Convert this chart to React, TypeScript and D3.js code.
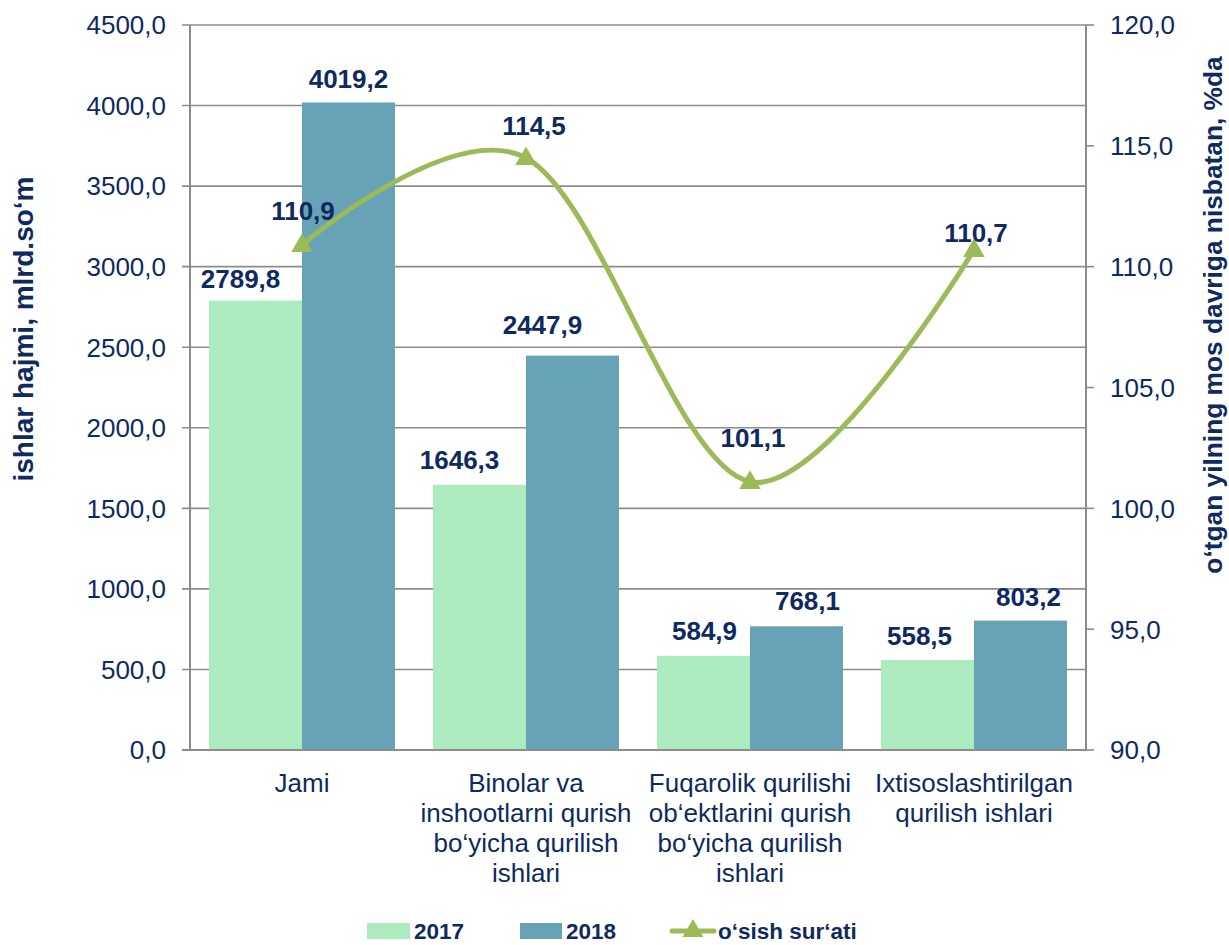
import React from "react";
import * as d3 from "d3";

const categories = ["Jami", "Binolar", "Fuqarolik", "Ixtisoslashtirilgan"];
const categoryLines = [
  ["Jami"],
  ["Binolar va", "inshootlarni qurish", "bo‘yicha qurilish", "ishlari"],
  ["Fuqarolik qurilishi", "ob‘ektlarini qurish", "bo‘yicha qurilish", "ishlari"],
  ["Ixtisoslashtirilgan", "qurilish ishlari"],
];
const series = ["2017", "2018"];
const values2017 = [2789.8, 1646.3, 584.9, 558.5];
const values2018 = [4019.2, 2447.9, 768.1, 803.2];
const growth = [110.9, 114.5, 101.1, 110.7];
const leftTicks = [0, 500, 1000, 1500, 2000, 2500, 3000, 3500, 4000, 4500];
const rightTicks = [90, 95, 100, 105, 110, 115, 120];
const leftTitle = "ishlar hajmi, mlrd.so‘m";
const rightTitle = "o‘tgan yilning mos davriga nisbatan, %da";
const lineName = "o‘sish sur‘ati";

// label nudges (style only): [dx, dy above top]
const nudge2017 = [[-15, 13], [-20, 16], [1, 16], [-8, 15]];
const nudge2018 = [[0, 14], [-30, 22], [11, 16], [8, 15]];
const nudgeLine = [[1, 25], [8, 23], [3, 35], [2, 8]];

const W = 1229, H = 945;
const L = 190, R = 1086, T = 25, B = 750;
const NAVY = "#0f2a5f";
const GRID = "#8c8c8c";
const C17 = "#aeeabf";
const C18 = "#67a2b6";
const CL = "#9bbb59";
const FONT = "'Liberation Sans', Arial, sans-serif";
const FS = 26;

const fmt = (v: number) => v.toFixed(1).replace(".", ",");

export default function App() {
  const x = d3.scaleBand<string>().domain(categories).range([L, R]).padding(0);
  const bw = x.bandwidth();
  const xs = d3.scaleBand<string>().domain(series).range([bw * 0.085, bw * 0.915]).padding(0);
  const y = d3.scaleLinear().domain([0, 4500]).range([B, T]);
  const y2 = d3.scaleLinear().domain([90, 120]).range([B, T]);
  const cx = (c: string) => (x(c) as number) + bw / 2;

  const linePts: [number, number][] = categories.map((c, i) => [cx(c), y2(growth[i])]);
  const linePath = d3.line().curve(d3.curveCardinal.tension(0))(linePts) as string;
  const tri = d3.symbol(d3.symbolTriangle, 200)() as string;
  const triSmall = d3.symbol(d3.symbolTriangle, 190)() as string;

  const bars = [
    { name: series[0], vals: values2017, color: C17, nudge: nudge2017 },
    { name: series[1], vals: values2018, color: C18, nudge: nudge2018 },
  ];

  return (
    <svg width={W} height={H} style={{ position: "absolute", left: 0, top: 0, background: "#fff" }} fontFamily={FONT}>
      <rect x={0} y={0} width={W} height={H} fill="#fff" />
      {/* gridlines */}
      {leftTicks.map((t) => (
        <line key={"g" + t} x1={182} x2={R} y1={y(t)} y2={y(t)} stroke={GRID} strokeWidth={1.6} />
      ))}
      {/* bars */}
      {bars.map((s) =>
        categories.map((c, i) => (
          <rect
            key={s.name + c}
            x={(x(c) as number) + (xs(s.name) as number)}
            y={y(s.vals[i])}
            width={xs.bandwidth()}
            height={B - y(s.vals[i])}
            fill={s.color}
          />
        ))
      )}
      {/* axes */}
      <line x1={L} x2={L} y1={T} y2={B} stroke={GRID} strokeWidth={2} />
      <line x1={R} x2={R} y1={T} y2={B} stroke={GRID} strokeWidth={2} />
      <line x1={182} x2={R} y1={B} y2={B} stroke={GRID} strokeWidth={2} />
      {rightTicks.map((t) => (
        <line key={"rt" + t} x1={R} x2={R + 8} y1={y2(t)} y2={y2(t)} stroke={GRID} strokeWidth={1.6} />
      ))}
      {/* tick labels */}
      {leftTicks.map((t) => (
        <text key={"lt" + t} x={166} y={y(t)} dy="0.36em" textAnchor="end" fontSize={FS} fill={NAVY}>
          {fmt(t)}
        </text>
      ))}
      {rightTicks.map((t) => (
        <text key={"rl" + t} x={1110} y={y2(t)} dy="0.36em" textAnchor="start" fontSize={FS} fill={NAVY}>
          {fmt(t)}
        </text>
      ))}
      {/* category labels */}
      {categories.map((c, i) => (
        <text key={"cl" + c} textAnchor="middle" fontSize={FS} fill={NAVY}>
          {categoryLines[i].map((ln, j) => (
            <tspan key={j} x={cx(c)} y={792 + j * 30}>
              {ln}
            </tspan>
          ))}
        </text>
      ))}
      {/* line */}
      <path d={linePath} fill="none" stroke={CL} strokeWidth={5} strokeLinecap="round" />
      {linePts.map((p, i) => (
        <path key={"m" + i} d={tri} transform={`translate(${p[0]},${p[1] + 1})`} fill={CL} />
      ))}
      {/* bar labels */}
      {bars.map((s) =>
        categories.map((c, i) => (
          <text
            key={"bl" + s.name + c}
            x={(x(c) as number) + (xs(s.name) as number) + xs.bandwidth() / 2 + s.nudge[i][0]}
            y={y(s.vals[i]) - s.nudge[i][1]}
            textAnchor="middle"
            fontSize={FS}
            fontWeight="bold"
            fill={NAVY}
          >
            {fmt(s.vals[i])}
          </text>
        ))
      )}
      {/* line labels */}
      {linePts.map((p, i) => (
        <text
          key={"ll" + i}
          x={p[0] + nudgeLine[i][0]}
          y={p[1] - nudgeLine[i][1]}
          textAnchor="middle"
          fontSize={FS}
          fontWeight="bold"
          fill={NAVY}
        >
          {fmt(growth[i])}
        </text>
      ))}
      {/* axis titles */}
      <text transform={`translate(33,329) rotate(-90)`} textAnchor="middle" fontSize={28} fontWeight="bold" fill={NAVY}>
        {leftTitle}
      </text>
      <text transform={`translate(1222,315) rotate(-90)`} textAnchor="middle" fontSize={26.3} fontWeight="bold" fill={NAVY}>
        {rightTitle}
      </text>
      {/* legend */}
      <rect x={367} y={923} width={43} height={16} fill={C17} />
      <text x={414} y={939} fontSize={22.5} fontWeight="bold" fill={NAVY}>{series[0]}</text>
      <rect x={520} y={923} width={42} height={16} fill={C18} />
      <text x={566} y={939} fontSize={22.5} fontWeight="bold" fill={NAVY}>{series[1]}</text>
      <line x1={672} x2={714} y1={931} y2={931} stroke={CL} strokeWidth={5} strokeLinecap="round" />
      <path d={triSmall} transform={`translate(693,931)`} fill={CL} />
      <text x={718} y={939} fontSize={22.5} fontWeight="bold" fill={NAVY}>{lineName}</text>
    </svg>
  );
}
